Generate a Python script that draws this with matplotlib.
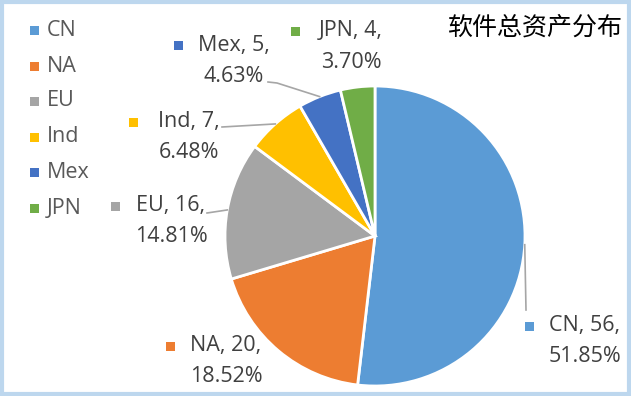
import matplotlib
matplotlib.use("Agg")
import matplotlib.pyplot as plt
from matplotlib.patches import Rectangle
import numpy as np

regions = ["CN", "NA", "EU", "Ind", "Mex", "JPN"]
counts = [56, 20, 16, 7, 5, 4]
colors = ["#5B9BD5", "#ED7D31", "#A5A5A5", "#FFC000", "#4472C4", "#70AD47"]
title = "软件总资产分布"

W, H = 631, 396
fig = plt.figure(figsize=(W / 100, H / 100), dpi=100)
ax = fig.add_axes([0, 0, 1, 1])

cx, cy, r = 375, H - 236, 150
wedges, _ = ax.pie(counts, colors=colors, startangle=90, counterclock=False,
                   center=(cx, cy), radius=r,
                   wedgeprops=dict(edgecolor="white", linewidth=2))
ax.set_xlim(0, W)
ax.set_ylim(0, H)
ax.set_aspect("equal")
ax.axis("off")

txt_col = "#404040"
lab_font = "Open Sans"
total = sum(counts)

# label layout: (text centre x, first line y from top, leader end point or None)
label_pos = {
    "CN": (585, 326, (526, 310)),
    "NA": (226, 346, None),
    "EU": (171, 206, (207, 213)),
    "Ind": (189, 122, (222, 127)),
    "Mex": (234, 45, (268, 82)),
    "JPN": (351, 31, None),
}

for w, name, val, col in zip(wedges, regions, counts, colors):
    tx, ty, end = label_pos[name]
    pct = val / total * 100
    ax.text(tx, H - ty, f"{name}, {val},", ha="center", va="center",
            fontsize=15.5, color=txt_col, family=lab_font)
    ax.text(tx, H - ty - 31, f"{pct:.2f}%", ha="center", va="center",
            fontsize=15.5, color=txt_col, family=lab_font)
    first_w = len(f"{name}, {val},") * 10.5
    ax.add_patch(Rectangle((tx - first_w / 2 - 23, H - ty - 4.5), 9, 9,
                           color=col, lw=0))
    if end is not None:
        mid = np.deg2rad((w.theta1 + w.theta2) / 2)
        sx, sy = cx + r * np.cos(mid), cy + r * np.sin(mid)
        ex, ey = end
        if name == "Mex":
            ax.plot([sx, ex + 9, ex], [sy, H - ey - 1, H - ey], color="#A6A6A6", lw=1.2)
        else:
            ax.plot([sx, ex], [sy, H - ey], color="#A6A6A6", lw=1.2)

# legend
leg_y = [30, 66, 101, 137, 172, 208]
for name, col, y in zip(regions, colors, leg_y):
    ax.add_patch(Rectangle((30, H - y - 4.5), 9, 9, color=col, lw=0))
    ax.text(47, H - y, name, ha="left", va="center", fontsize=15.5,
            color="#595959", family=lab_font)

ax.text(622, H - 28, title, ha="right", va="center", fontsize=18,
        color="black", family=["Noto Sans CJK SC", "DejaVu Sans"])

fig.patches.append(Rectangle((0.0025, 0.004), 0.995, 0.992, transform=fig.transFigure,
                             fill=False, edgecolor="#BDD7EE", linewidth=3))

fig.savefig("out.png", dpi=100)
